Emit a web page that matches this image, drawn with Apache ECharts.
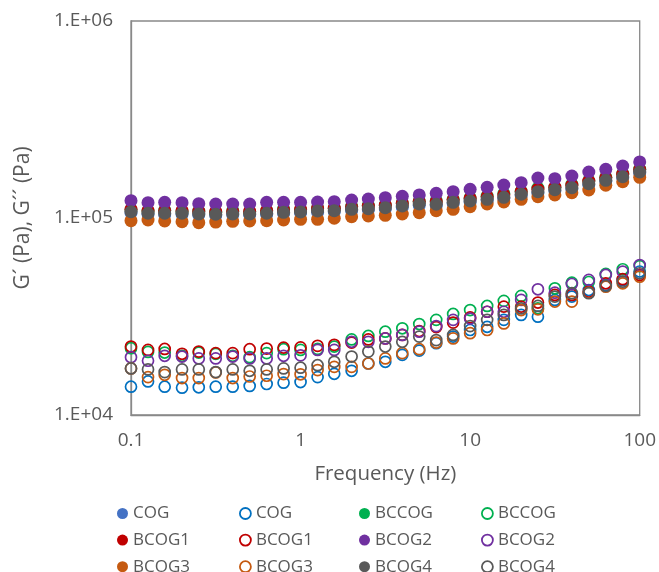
<!DOCTYPE html>
<html>
<head>
<meta charset="utf-8">
<script src="https://cdn.jsdelivr.net/npm/echarts@6/dist/echarts.min.js"></script>
<style>
html,body{margin:0;padding:0;background:#fff;}
#chart{width:659px;height:572px;}
</style>
</head>
<body>
<div id="chart"></div>
<script>
// Frequencies (Hz)
const freq = [0.1,0.126,0.158,0.2,0.251,0.316,0.398,0.501,0.631,0.794,1,1.26,1.58,2,2.51,3.16,3.98,5.01,6.31,7.94,10,12.6,15.8,20,25.1,31.6,39.8,50.1,63.1,79.4,100];

// G' (filled markers), Pa
const gp_COG   = [1.060e5,1.045e5,1.040e5,1.045e5,1.035e5,1.030e5,1.035e5,1.038e5,1.045e5,1.055e5,1.060e5,1.070e5,1.075e5,1.092e5,1.100e5,1.112e5,1.135e5,1.160e5,1.158e5,1.185e5,1.205e5,1.228e5,1.258e5,1.302e5,1.342e5,1.375e5,1.408e5,1.475e5,1.535e5,1.600e5,1.690e5];
const gp_BCCOG = [1.100e5,1.085e5,1.095e5,1.080e5,1.085e5,1.070e5,1.090e5,1.075e5,1.090e5,1.110e5,1.100e5,1.125e5,1.120e5,1.145e5,1.160e5,1.165e5,1.195e5,1.215e5,1.225e5,1.245e5,1.265e5,1.290e5,1.330e5,1.365e5,1.420e5,1.430e5,1.480e5,1.545e5,1.610e5,1.680e5,1.770e5];
const gp_BCOG1 = [1.108e5,1.090e5,1.088e5,1.089e5,1.080e5,1.077e5,1.079e5,1.080e5,1.089e5,1.101e5,1.106e5,1.118e5,1.122e5,1.140e5,1.149e5,1.162e5,1.186e5,1.213e5,1.210e5,1.237e5,1.257e5,1.282e5,1.312e5,1.360e5,1.401e5,1.434e5,1.468e5,1.539e5,1.601e5,1.669e5,1.763e5];
const gp_BCOG2 = [1.224e5,1.196e5,1.201e5,1.196e5,1.182e5,1.178e5,1.178e5,1.178e5,1.201e5,1.201e5,1.201e5,1.206e5,1.210e5,1.234e5,1.248e5,1.268e5,1.289e5,1.309e5,1.335e5,1.360e5,1.398e5,1.432e5,1.471e5,1.511e5,1.596e5,1.583e5,1.634e5,1.712e5,1.766e5,1.836e5,1.925e5];
const gp_BCOG3 = [9.69e4,9.77e4,9.66e4,9.58e4,9.47e4,9.54e4,9.62e4,9.66e4,9.69e4,9.77e4,9.85e4,9.85e4,9.97e4,1.016e5,1.024e5,1.032e5,1.048e5,1.064e5,1.089e5,1.107e5,1.141e5,1.178e5,1.206e5,1.244e5,1.283e5,1.309e5,1.344e5,1.387e5,1.466e5,1.528e5,1.609e5];
const gp_BCOG4 = [1.076e5,1.057e5,1.057e5,1.057e5,1.048e5,1.045e5,1.048e5,1.048e5,1.057e5,1.069e5,1.073e5,1.085e5,1.089e5,1.107e5,1.115e5,1.128e5,1.151e5,1.178e5,1.174e5,1.201e5,1.220e5,1.244e5,1.274e5,1.320e5,1.360e5,1.392e5,1.425e5,1.494e5,1.554e5,1.620e5,1.712e5];

// G'' (open markers), Pa
const gpp_COG   = [1.392e4,1.480e4,1.392e4,1.376e4,1.382e4,1.392e4,1.392e4,1.404e4,1.437e4,1.459e4,1.470e4,1.557e4,1.619e4,1.676e4,1.826e4,1.862e4,2.020e4,2.123e4,2.316e4,2.500e4,2.700e4,2.804e4,3.040e4,3.220e4,3.157e4,3.840e4,3.990e4,4.310e4,4.570e4,4.850e4,5.350e4];
const gpp_BCCOG = [2.183e4,2.091e4,2.075e4,1.997e4,2.075e4,2.044e4,1.997e4,1.966e4,2.061e4,2.158e4,2.140e4,2.165e4,2.225e4,2.420e4,2.520e4,2.647e4,2.754e4,2.894e4,3.040e4,3.258e4,3.410e4,3.578e4,3.796e4,4.023e4,3.479e4,4.397e4,4.696e4,4.732e4,5.200e4,5.495e4,5.703e4];
const gpp_BCOG1 = [2.225e4,2.140e4,2.165e4,2.044e4,2.098e4,2.061e4,2.061e4,2.158e4,2.173e4,2.198e4,2.204e4,2.244e4,2.270e4,2.332e4,2.420e4,2.448e4,2.550e4,2.669e4,2.794e4,2.945e4,3.127e4,3.343e4,3.549e4,3.549e4,3.721e4,4.070e4,4.070e4,4.225e4,4.662e4,4.890e4,5.140e4];
const gpp_BCOG2 = [1.966e4,1.885e4,1.997e4,1.980e4,1.938e4,1.938e4,1.980e4,1.938e4,1.938e4,1.997e4,2.008e4,2.140e4,2.140e4,2.353e4,2.353e4,2.448e4,2.550e4,2.647e4,2.827e4,3.040e4,3.087e4,3.343e4,3.343e4,3.840e4,4.345e4,4.176e4,4.623e4,4.850e4,5.140e4,5.343e4,5.770e4];
const gpp_BCOG3 = [1.724e4,1.557e4,1.600e4,1.540e4,1.540e4,1.644e4,1.540e4,1.568e4,1.582e4,1.613e4,1.609e4,1.690e4,1.755e4,1.755e4,1.826e4,1.938e4,2.061e4,2.158e4,2.332e4,2.448e4,2.601e4,2.700e4,2.917e4,3.410e4,3.438e4,3.764e4,3.764e4,4.176e4,4.480e4,4.662e4,5.039e4];
const gpp_BCOG4 = [1.724e4,1.704e4,1.651e4,1.704e4,1.704e4,1.651e4,1.704e4,1.676e4,1.704e4,1.724e4,1.738e4,1.790e4,1.862e4,1.980e4,2.098e4,2.225e4,2.353e4,2.500e4,2.400e4,2.550e4,2.827e4,3.040e4,3.220e4,3.479e4,3.578e4,3.990e4,4.152e4,4.152e4,4.517e4,4.752e4,5.243e4];

const samples = ['COG','BCCOG','BCOG1','BCOG2','BCOG3','BCOG4'];
const filledColors = {COG:'#4472C4', BCCOG:'#00B050', BCOG1:'#C00000', BCOG2:'#7030A0', BCOG3:'#C55A11', BCOG4:'#595959'};
const openColors   = {COG:'#0070C0', BCCOG:'#00B050', BCOG1:'#C00000', BCOG2:'#7030A0', BCOG3:'#C55A11', BCOG4:'#595959'};
const gpData  = {COG:gp_COG, BCCOG:gp_BCCOG, BCOG1:gp_BCOG1, BCOG2:gp_BCOG2, BCOG3:gp_BCOG3, BCOG4:gp_BCOG4};
const gppData = {COG:gpp_COG, BCCOG:gpp_BCCOG, BCOG1:gpp_BCOG1, BCOG2:gpp_BCOG2, BCOG3:gpp_BCOG3, BCOG4:gpp_BCOG4};

const FONT = 'Open Sans';
const TXT = '#595959';

const series = [];
samples.forEach(s => {
  series.push({
    name: s + '|f', type: 'scatter', symbol: 'circle', symbolSize: 13,
    itemStyle: {color: filledColors[s], opacity: 1},
    data: freq.map((f, i) => [f, gpData[s][i]]), z: 2
  });
  series.push({
    name: s + '|o', type: 'scatter', symbol: 'circle', symbolSize: 11,
    itemStyle: {color: 'rgba(255,255,255,0)', borderColor: openColors[s], borderWidth: 1.7, opacity: 1},
    data: freq.map((f, i) => [f, gppData[s][i]]), z: 2
  });
});

function legendCol(names, left) {
  return {
    orient: 'vertical', left: left, top: 505, height: 80,
    itemWidth: 11, itemHeight: 11, itemGap: 9.6,
    selectedMode: false, padding: 0,
    textStyle: {fontFamily: FONT, fontSize: 17, color: TXT, lineHeight: 14},
    formatter: n => n.split('|')[0],
    data: names.map(n => {
      const [s, k] = n.split('|');
      return k === 'f'
        ? {name: n, icon: 'circle', itemStyle: {color: filledColors[s], borderWidth: 0}}
        : {name: n, icon: 'circle', itemStyle: {color: '#fff', borderColor: openColors[s], borderWidth: 1.8}};
    })
  };
}

const chart = echarts.init(document.getElementById('chart'), null, {renderer: 'canvas'});
chart.setOption({
  animation: false,
  backgroundColor: '#fff',
  grid: {left: 131, top: 21, right: 19, bottom: 157, show: true, borderColor: '#898989', borderWidth: 1.3, backgroundColor: 'transparent'},
  xAxis: {
    type: 'log', logBase: 10, min: 0.1, max: 100,
    name: 'Frequency (Hz)', nameLocation: 'middle', nameGap: 49,
    nameTextStyle: {fontFamily: FONT, fontSize: 20.5, color: TXT},
    axisLine: {show: true, lineStyle: {color: '#898989', width: 1.3}},
    axisTick: {show: false}, splitLine: {show: false}, minorTick: {show: false},
    axisLabel: {fontFamily: FONT, fontSize: 19, color: TXT, margin: 16,
      formatter: v => (v < 1 ? v.toFixed(1) : String(Math.round(v)))}
  },
  yAxis: {
    type: 'log', logBase: 10, min: 1e4, max: 1e6,
    name: 'G\u00B4 (Pa), G\u00B4\u00B4 (Pa)', nameLocation: 'middle', nameGap: 97,
    nameTextStyle: {fontFamily: FONT, fontSize: 21, color: TXT},
    axisLine: {show: true, lineStyle: {color: '#898989', width: 1.3}},
    axisTick: {show: false}, splitLine: {show: false},
    axisLabel: {fontFamily: FONT, fontSize: 19, color: TXT, margin: 18,
      formatter: v => '1.E+0' + Math.round(Math.log10(v))}
  },
  legend: [
    legendCol(['COG|f','BCOG1|f','BCOG3|f'], 117),
    legendCol(['COG|o','BCOG1|o','BCOG3|o'], 239),
    legendCol(['BCCOG|f','BCOG2|f','BCOG4|f'], 359),
    legendCol(['BCCOG|o','BCOG2|o','BCOG4|o'], 481)
  ],
  series: series
});
</script>
</body>
</html>
